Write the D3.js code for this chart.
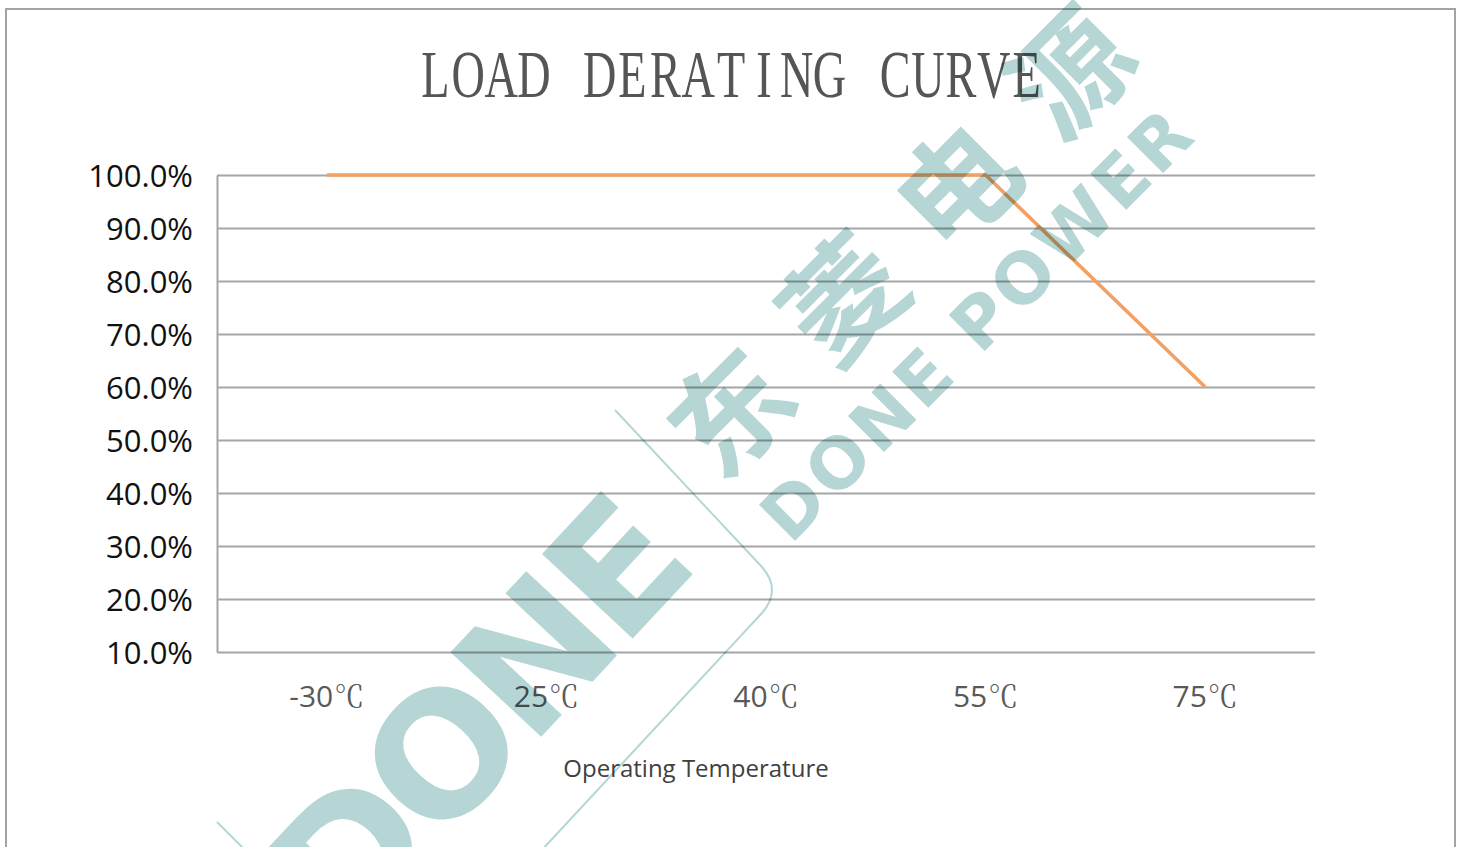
<!DOCTYPE html>
<html><head><meta charset="utf-8">
<script src="https://cdn.jsdelivr.net/npm/d3@7/dist/d3.min.js"></script>
<style>
body{margin:0;background:#fff;}
svg{display:block;}
</style>
</head><body>
<svg id="chart" width="1464" height="847"></svg>
<script>
// ---- data ----
const categories = ["-30", "25", "40", "55", "75"];
const unitSymbol = "℃";
const loadValues = [1.0, 1.0, 1.0, 1.0, 0.6];
const yTickValues = [0.1, 0.2, 0.3, 0.4, 0.5, 0.6, 0.7, 0.8, 0.9, 1.0];
const titleText = "LOAD DERATING CURVE";
const xAxisTitle = "Operating Temperature";
const watermarkLogo = "DONE";
const watermarkCN = "东菱电源";
const watermarkEN = "DONE POWER";

// ---- layout ----
const plot = {left: 217, right: 1315, top: 175, bottom: 652};
const svg = d3.select("#chart");
const gridColor = "#a6a6a6";

// outer frame
svg.append("rect")
  .attr("x", 6).attr("y", 9).attr("width", 1449).attr("height", 900)
  .attr("fill", "none").attr("stroke", "#a3a3a3").attr("stroke-width", 2);

// title, set on a monospace grid of condensed serif glyphs
const titleCenter = 731, titleBase = 97, titleWidth = 624, sx = 0.68;
const pitch = titleWidth / titleText.length;
const tg = svg.append("g").attr("transform", `translate(${titleCenter},${titleBase}) scale(${sx},1)`);
tg.selectAll("text").data(titleText.split(""))
  .join("text")
  .attr("x", (d, i) => ((i + 0.5) - titleText.length / 2) * pitch / sx)
  .attr("text-anchor", "middle")
  .attr("font-family", "'Liberation Serif','DejaVu Serif',serif")
  .attr("font-size", 68)
  .attr("fill", "#555555")
  .text(d => d);

// scales
const x = d3.scaleBand().domain(categories).range([plot.left, plot.right]);
const y = d3.scaleLinear().domain([0.1, 1.0]).range([plot.bottom, plot.top]);

// y axis with gridlines
const yAxis = d3.axisLeft(y)
  .tickValues(yTickValues)
  .tickSize(-(plot.right - plot.left))
  .tickSizeOuter(0)
  .tickPadding(24)
  .tickFormat(d3.format(".1%"));
const gy = svg.append("g").attr("transform", `translate(${plot.left},0)`).call(yAxis);
gy.select(".domain").attr("stroke", gridColor).attr("stroke-width", 2);
gy.selectAll(".tick line").attr("stroke", gridColor).attr("stroke-width", 2);
gy.selectAll(".tick text")
  .attr("font-family", "'Open Sans','Noto Sans',sans-serif")
  .attr("font-size", 31)
  .attr("fill", "#111")
  .attr("dy", "0.36em");

// x axis labels
const xAxis = d3.axisBottom(x).tickSize(0).tickPadding(34);
const gx = svg.append("g").attr("transform", `translate(0,${plot.bottom})`).call(xAxis);
gx.select(".domain").remove();
gx.selectAll(".tick text").each(function(d) {
  const t = d3.select(this);
  t.text(null)
   .attr("font-family", "'Open Sans','Noto Sans',sans-serif")
   .attr("font-size", 30)
   .attr("fill", "#595959");
  t.append("tspan").text(d);
  t.append("tspan")
   .attr("font-family", "'Noto Serif CJK SC','DejaVu Serif','Noto Sans CJK SC',serif")
   .attr("font-size", 30)
   .attr("dx", 1)
   .text(unitSymbol);
});

// x axis title
svg.append("text")
  .attr("x", 696).attr("y", 777)
  .attr("text-anchor", "middle")
  .attr("font-family", "'Open Sans','Noto Sans',sans-serif")
  .attr("font-size", 24)
  .attr("fill", "#404040")
  .text(xAxisTitle);

// data line
const series = categories.map((c, i) => ({cat: c, v: loadValues[i]}));
const line = d3.line()
  .x(d => x(d.cat) + x.bandwidth() / 2)
  .y(d => y(d.v));
svg.append("path")
  .datum(series)
  .attr("d", line)
  .attr("fill", "none")
  .attr("stroke", "#f2a165")
  .attr("stroke-width", 3.6)
  .attr("stroke-linejoin", "round");

// watermark (multiplied over the chart)
const wmColor = "#b6d5d5";
const wm = svg.append("g").style("mix-blend-mode", "multiply");
wm.append("path")
  .attr("d", "M615,410 L762,567 Q782,590 762,613 L540,852 M217,822 L247,852")
  .attr("fill", "none").attr("stroke", wmColor).attr("stroke-width", 2);
wm.append("text")
  .attr("transform", "translate(478,718) rotate(-47)")
  .attr("text-anchor", "middle")
  .attr("dominant-baseline", "central")
  .attr("font-family", "'DejaVu Sans',sans-serif")
  .attr("font-weight", "bold")
  .attr("font-size", 170)
  .attr("letter-spacing", -8)
  .attr("fill", wmColor)
  .text(watermarkLogo);
wm.append("text")
  .attr("transform", "translate(910,222) rotate(-45)")
  .attr("text-anchor", "middle")
  .attr("dominant-baseline", "central")
  .attr("font-family", "'Noto Sans CJK SC',sans-serif")
  .attr("font-weight", "bold")
  .attr("font-size", 118)
  .attr("letter-spacing", 42)
  .attr("fill", wmColor)
  .text(watermarkCN);
wm.append("text")
  .attr("transform", "translate(978,324) rotate(-45)")
  .attr("text-anchor", "middle")
  .attr("dominant-baseline", "central")
  .attr("font-family", "'DejaVu Sans',sans-serif")
  .attr("font-weight", "bold")
  .attr("font-size", 70)
  .attr("letter-spacing", 4)
  .attr("fill", wmColor)
  .text(watermarkEN);
</script>
</body></html>
